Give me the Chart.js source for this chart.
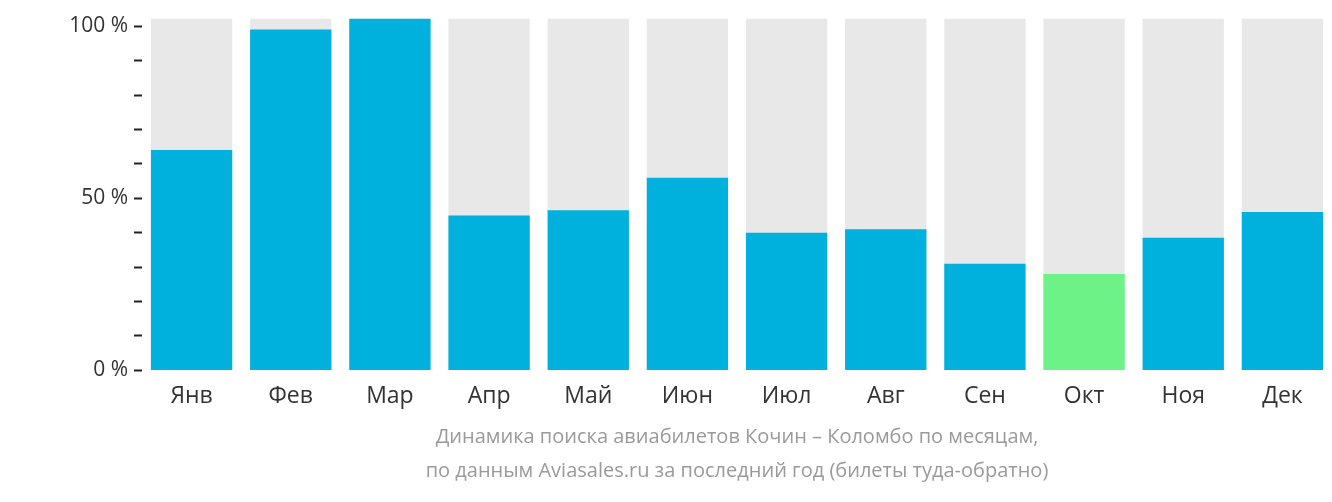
<!DOCTYPE html>
<html>
<head>
<meta charset="utf-8">
<script src="https://cdn.jsdelivr.net/npm/chart.js@4"></script>
<style>
  html, body { margin: 0; padding: 0; background: #fff; }
  #wrap { width: 1332px; height: 502px; }
</style>
</head>
<body>
<div id="wrap"><canvas id="chart"></canvas></div>
<script>
const months = ['Янв', 'Фев', 'Мар', 'Апр', 'Май', 'Июн', 'Июл', 'Авг', 'Сен', 'Окт', 'Ноя', 'Дек'];
const searchShare = [64, 99, 102.2, 45, 46.5, 56, 40, 41, 31, 28, 38.5, 46];
const fullBar = months.map(() => 102.2);
const highlightMonth = 'Окт';
const yTicks = [0, 10, 20, 30, 40, 50, 60, 70, 80, 90, 100];
const titleLines = [
  'Динамика поиска авиабилетов Кочин – Коломбо по месяцам,',
  'по данным Aviasales.ru за последний год (билеты туда-обратно)'
];

const barColors = months.map(m => m === highlightMonth ? '#6cf287' : '#00b0dd');

new Chart(document.getElementById('chart'), {
  type: 'bar',
  data: {
    labels: months,
    datasets: [
      { data: searchShare, backgroundColor: barColors, order: 1, grouped: false,
        barPercentage: 0.82, categoryPercentage: 1 },
      { data: fullBar, backgroundColor: '#e8e8e8', order: 2, grouped: false,
        barPercentage: 0.82, categoryPercentage: 1 }
    ]
  },
  options: {
    responsive: true,
    maintainAspectRatio: false,
    animation: false,
    layout: { padding: { top: -14, right: 0, left: 0, bottom: 10 } },
    plugins: { legend: { display: false }, tooltip: { enabled: false } },
    scales: {
      x: {
        grid: { display: false },
        border: { display: false },
        ticks: { color: '#333', font: { family: 'Open Sans', size: 23 }, padding: 4 },
        title: {
          display: true,
          text: titleLines,
          color: '#9a9a9a',
          font: { family: 'Open Sans', size: 20, lineHeight: 1.7 },
          padding: { top: 6 }
        }
      },
      y: {
        min: 0,
        max: 102.2,
        afterBuildTicks: axis => { axis.ticks = yTicks.map(v => ({ value: v })); },
        afterFit: axis => { axis.width = 142; },
        border: { display: false },
        grid: {
          drawOnChartArea: false,
          tickLength: 8,
          tickWidth: 2,
          tickColor: '#222'
        },
        ticks: {
          color: '#333',
          font: { family: 'Open Sans', size: 21 },
          padding: 6,
          callback: v => (v % 50 === 0 ? v + ' %' : '')
        }
      }
    }
  }
});
</script>
</body>
</html>
